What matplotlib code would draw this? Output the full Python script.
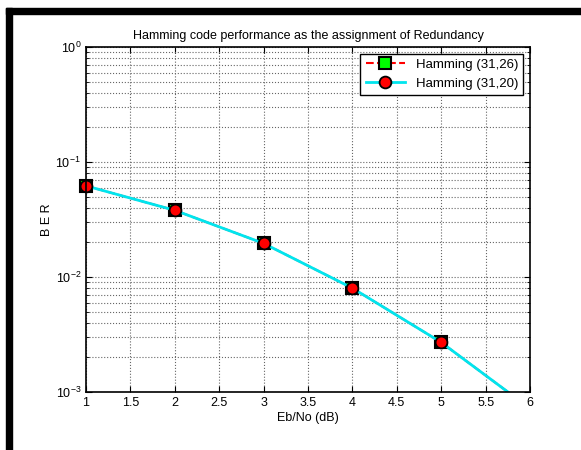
import numpy as np
import matplotlib
matplotlib.use('Agg')
import matplotlib.pyplot as plt
from matplotlib.patches import Rectangle

plt.rcParams['font.family'] = ['Liberation Sans', 'DejaVu Sans']

# data
ebno = [1, 2, 3, 4, 5, 6]
ber_31_26 = [0.062, 0.038, 0.0196, 0.0080, 0.0027, 0.00072]
ber_31_20 = [0.062, 0.038, 0.0196, 0.0080, 0.0027, 0.00072]
xticks = [1, 1.5, 2, 2.5, 3, 3.5, 4, 4.5, 5, 5.5, 6]

fig = plt.figure(figsize=(5.81, 4.5), dpi=100)
ax = fig.add_axes([86/581, 1-392/450, (530-86)/581, (392-47)/450])

ax.semilogy(ebno, ber_31_26, 'r--', lw=1.5, marker='s', ms=8,
            mfc='#00ff00', mec='k', mew=1.5, label='Hamming (31,26)')
ax.semilogy(ebno, ber_31_20, '-', color='#00e5ee', lw=2, marker='o', ms=8.5,
            mfc='red', mec='k', mew=1.3, label='Hamming (31,20)')
# clip only at the bottom/right so the first marker on the left axis stays whole
clip = Rectangle((-0.04, 0), 1.04, 1.04, transform=ax.transAxes)
for ln in ax.lines:
    ln.set_clip_path(clip)

ax.set_xlim(1, 6)
ax.set_ylim(1e-3, 1)
ax.set_xticks(xticks)
ax.set_xticklabels([f'{t:g}' for t in xticks])
ax.grid(True, which='major', ls=':', color='0.4', lw=0.8)
ax.grid(True, which='minor', axis='y', ls=':', color='0.4', lw=0.8)
ax.tick_params(which='both', direction='in', top=True, right=True, labelsize=9)
ax.tick_params(which='major', length=4)
ax.tick_params(which='minor', length=2.5)
for s in ax.spines.values():
    s.set_linewidth(1.2)

ax.set_title('Hamming code performance as the assignment of Redundancy', fontsize=9, pad=6)
ax.set_xlabel('Eb/No (dB)', fontsize=9, labelpad=2)
ax.set_ylabel('B E R', fontsize=9, labelpad=2)

leg = ax.legend(loc='upper right', fontsize=9.5, fancybox=False, framealpha=1,
                edgecolor='k', handlelength=3.0, borderaxespad=0.5)
leg.get_frame().set_linewidth(1.0)

# black frame on top and left edge
fig.patches.append(Rectangle((6/581, 1-14/450), 1, 6/450, transform=fig.transFigure,
                             color='k', zorder=10))
fig.patches.append(Rectangle((6/581, 0), 6/581, 1-8/450, transform=fig.transFigure,
                             color='k', zorder=10))

fig.savefig('out.png', dpi=100)
